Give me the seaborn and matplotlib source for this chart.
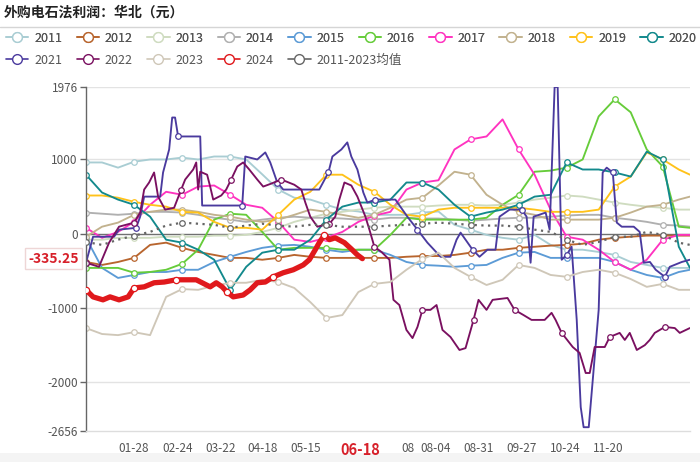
import numpy as np
import pandas as pd
import matplotlib
matplotlib.use("Agg")
import matplotlib.pyplot as plt
import seaborn as sns
from matplotlib.lines import Line2D
from matplotlib.patches import Rectangle

sns.set_theme(style="white")
plt.rcParams['font.family'] = ['Noto Sans CJK SC', 'DejaVu Sans']

# ---- data (day of year, profit in yuan) ----
days = [-2, 8, 18, 28, 38, 48, 58, 68, 78, 88, 98, 108, 118, 128, 138, 148, 158, 168, 178, 188,
        198, 208, 218, 228, 238, 248, 258, 268, 278, 288, 298, 308, 318, 328, 338, 348, 358, 368, 375]

y2011 = [960, 960, 890, 970, 1000, 1000, 1025, 1000, 1040, 1040, 1000, 800, 595, 485, 460, 390, 325, 300, 255, 255,
         255, 285, 300, 120, 55, -15, -55, -80, -15, -150, -215, -215, -245, -285, -380, -420, -460, -460, -460]
y2012 = [-380, -420, -380, -325, -150, -120, -190, -245, -285, -325, -325, -350, -325, -285, -310, -325, -325, -325, -325, -325,
         -310, -300, -300, -285, -255, -215, -215, -190, -175, -160, -150, -135, -80, -55, -40, -25, -25, -25, -25]
y2013 = [-80, -80, -55, -55, -55, -40, -40, -40, -25, -25, -15, 25, 80, 160, 215, 270, 295, 325, 350, 365,
         365, 365, 380, 390, 390, 380, 390, 420, 460, 485, 515, 500, 460, 420, 390, 365, 350, 325, 325]
y2014 = [285, 270, 255, 270, 295, 295, 285, 255, 215, 190, 160, 190, 215, 230, 215, 215, 205, 190, 190, 215,
         215, 205, 205, 190, 175, 190, 205, 215, 215, 230, 245, 255, 255, 215, 190, 160, 120, 110, 95]
y2015 = [-55, -460, -595, -555, -515, -515, -485, -485, -380, -310, -245, -190, -160, -150, -175, -215, -245, -215, -215, -285,
         -380, -420, -430, -445, -430, -420, -325, -255, -245, -325, -325, -325, -325, -380, -485, -555, -595, -515, -485]
y2016 = [-460, -460, -460, -525, -515, -485, -405, -215, 190, 270, 255, 25, -215, -190, -190, -190, -215, -215, -215, -15,
         215, 190, 190, 190, 190, 215, 390, 525, 835, 850, 890, 1000, 1580, 1810, 1635, 1135, 905, 95, 80]
y2017 = [80, -55, 25, 160, 390, 565, 525, 635, 650, 525, 390, 350, 160, -80, -110, -55, 25, 160, 245, 295,
         595, 690, 720, 1135, 1270, 1310, 1540, 1135, 795, 325, -40, -80, -215, -380, -485, -350, -80, -15, -15]
y2018 = [-40, 95, 150, 255, 295, 325, 325, 295, 255, 230, 190, 160, 190, 255, 325, 295, 255, 215, 255, 350,
         460, 485, 650, 835, 795, 525, 390, 295, 255, 190, 190, 190, 190, 215, 285, 365, 390, 460, 500]
y2019 = [515, 515, 485, 430, 390, 365, 295, 285, 160, 80, 80, 55, 255, 460, 565, 795, 795, 660, 565, 390,
         255, 230, 325, 350, 350, 350, 350, 350, 325, 295, 295, 295, 325, 635, 770, 1095, 1000, 865, 795]
y2020 = [795, 555, 460, 390, 230, -80, -120, -215, -350, -755, -445, -255, -215, -215, -80, 190, 365, 420, 420, 460,
         690, 690, 595, 390, 230, 285, 325, 390, 500, 525, 960, 865, 865, 825, 770, 1105, 1000, -175, -460]
y2023 = [-1270, -1350, -1365, -1325, -1365, -850, -745, -755, -700, -660, -660, -620, -650, -730, -920, -1135, -1095, -785, -675, -650,
         -485, -340, -255, -460, -580, -690, -620, -420, -460, -555, -580, -515, -485, -525, -610, -715, -675, -755, -755]
y_avg = [-110, -150, -80, -25, 25, 110, 150, 135, 120, 80, 110, 135, 110, 95, 120, 120, 95, 95, 95, 110,
         120, 135, 150, 135, 120, 110, 110, 95, 55, 25, -80, -150, -110, -40, -40, 25, -15, -120, -150]

days_2021 = [-2, 2.4, 15.5, 18.6, 29.3, 31.8, 34.3, 44.3, 46.1, 49.9, 51.8, 53.6, 55.5, 69.3, 70.5, 95.5, 97.4, 104.9,
             109.9, 113, 117.4, 121.1, 143.6, 149.3, 151.8, 157.4, 161.1, 163.6, 167.4, 171.1, 173.6, 178.6, 191.1,
             198.6, 204.9, 211.1, 219.3, 225.5, 229.3, 231.8, 234.9, 239.3, 243.6, 248.6, 253.6, 256.1, 262.4, 269.9,
             273, 275.5, 277.4, 284.9, 287.4, 290.5, 292.4, 294.9, 298, 301.1, 304.3, 306.8, 308.6, 311.8, 314.3, 318,
             320.5, 323, 326.8, 329.3, 332.4, 339.9, 343.6, 346.1, 350, 353.6, 359.3, 362.4, 369.9, 374.9]
y2021 = [-390, -40, -40, 55, 80, 230, 500, 500, 825, 1135, 1565, 1565, 1310, 1310, 380, 380, 1040, 1000,
         1095, 960, 690, 595, 595, 825, 1040, 1135, 1230, 1040, 865, 555, 420, 460, 460,
         230, 55, -120, -310, -310, -80, 15, -80, -215, -310, -215, -215, 230, 325, 325,
         230, -390, 230, 285, 55, 1976, 1976, -350, -285, -175, -1160, -2335, -2605, -2605, -1970, -1025,
         825, 890, 825, 150, 95, 95, 25, -390, -380, -485, -580, -445, -380, -350]

days_2022 = [-2, 6.1, 12.4, 18.6, 28, 31.8, 34.3, 37.4, 40.5, 43, 47.4, 53, 57.4, 59.9, 64.9, 66.8, 68, 69.3, 73.6,
             75.5, 77.4, 82.4, 85.5, 88.6, 92.4, 96.1, 99.9, 104.9, 108.6, 113.6, 119.9, 128, 132.4, 134.9, 138,
             142.4, 149.9, 153.6, 156.1, 159.3, 163.6, 167.4, 172.4, 174.9, 178, 182.4, 187.4, 189.9, 193.6, 198,
             201.8, 204.9, 208, 213, 216.8, 220.5, 225.5, 231.1, 234.9, 239.9, 243, 248, 251.8, 261.1, 265.5, 271.1,
             276.1, 284.3, 288.6, 291.1, 294.9, 301.8, 306.1, 309.9, 312.4, 315.5, 321.8, 324.9, 331.1, 334.3, 337.4,
             341.8, 346.8, 349.9, 353, 359.3, 365.5, 368.6, 374.9]
y2022 = [-390, -445, -120, 95, 150, 285, 595, 690, 825, 500, 325, 350, 595, 730, 865, 960, 595, 835, 795,
         635, 460, 515, 595, 730, 905, 960, 865, 730, 635, 675, 730, 660, 595, 420, 230,
         95, 135, 230, 460, 690, 650, 500, 230, 55, -175, -245, -350, -890, -960, -1295,
         -1405, -1255, -1025, -1025, -960, -1295, -1390, -1565, -1540, -1160, -890, -1025, -890, -865, -1025, -1095,
         -1160, -1160, -1065, -1160, -1335, -1525, -1605, -1875, -1875, -1525, -1525, -1390, -1335, -1430, -1335,
         -1565, -1500, -1430, -1335, -1255, -1270, -1335, -1270]

days_2024 = [-2, 2.4, 8.6, 13, 18.6, 24.3, 28, 34.3, 40.5, 46.8, 54.3, 66.8, 70.5, 75.5, 79.3, 83, 86.1, 89.9,
             96.1, 100.5, 104.9, 109.9, 114.9, 121.1, 127.4, 133.6, 137.4, 141.1, 143.6, 146.8, 149.9, 153.6,
             159.3, 163.6, 167.4, 170.5]
y2024 = [-755, -850, -890, -850, -890, -850, -730, -715, -660, -650, -620, -620, -660, -715, -660, -715, -785, -850,
         -825, -755, -660, -650, -580, -525, -485, -420, -350, -215, -120, -15, -80, -55,
         -120, -205, -285, -335.25]

tick_days = [28, 55, 82, 108, 135, 169, 199, 216, 243, 270, 297, 324]
tick_labels = ['01-28', '02-24', '03-22', '04-18', '05-15', '06-18', '08', '08-04', '08-31', '09-27', '10-24', '11-20']
y_ticks = [1976, 1000, 0, -1000, -2000, -2656]
last_value = -335.25

# ---- series table ----
series = [
    ('2011', days, y2011), ('2012', days, y2012), ('2013', days, y2013), ('2014', days, y2014),
    ('2015', days, y2015), ('2016', days, y2016), ('2017', days, y2017), ('2018', days, y2018),
    ('2019', days, y2019), ('2020', days, y2020), ('2021', days_2021, y2021), ('2022', days_2022, y2022),
    ('2023', days, y2023), ('2011-2023均值', days, y_avg), ('2024', days_2024, y2024),
]
df = pd.concat([pd.DataFrame({'day': x, 'value': y, 'year': n}) for n, x, y in series], ignore_index=True)

colors = {
    '2011': '#a9cdd3', '2012': '#b8652e', '2013': '#cfdcc0', '2014': '#b0b0b0', '2015': '#5c9bd6',
    '2016': '#66cc3a', '2017': '#ff33c0', '2018': '#c2b28e', '2019': '#ffc21a', '2020': '#12898c',
    '2021': '#4a3a9e', '2022': '#7a1060', '2023': '#cfc7b8', '2024': '#e0191c', '2011-2023均值': '#666666',
}

# ---- figure ----
fig = plt.figure(figsize=(7, 4.62), dpi=100)
fig.add_artist(Rectangle((0, 0), 1, 9 / 462, transform=fig.transFigure, color='#f4f4f4', lw=0, zorder=0))
ax = fig.add_axes([86 / 700, 31 / 462, 604 / 700, 344 / 462])
ax.patch.set_alpha(0)

marker_days = days[::3]
for name, x, y in series:
    sub = df[df['year'] == name]
    c = colors[name]
    if x is days:
        mk = slice(0, None, 3)
    else:
        xa = np.array(x)
        mk = sorted(set(int(np.argmin(np.abs(xa - d))) for d in marker_days if d <= xa.max() + 3))
    kw = dict(color=c, lw=1.35, marker='o', ms=4, mfc='white', mec=c, mew=0.9, markevery=mk)
    if name == '2024':
        kw.update(lw=3.8, ms=4.5, zorder=5)
    if name == '2011-2023均值':
        kw.update(lw=1.6, ls=(0, (1, 2)), zorder=4)
    sns.lineplot(data=sub, x='day', y='value', estimator=None, sort=False, ax=ax, legend=False, **kw)

ax.set_xlim(-2, 375)
ax.set_ylim(-2656, 1976)
ax.set_xlabel('')
ax.set_ylabel('')

ax.set_yticks(y_ticks)
ax.set_yticklabels([str(v) for v in y_ticks])
ax.set_xticks(tick_days)
ax.set_xticklabels(tick_labels)
ax.tick_params(axis='y', length=4, width=1, color='#666666', labelsize=8.5, labelcolor='#555555', pad=2, left=True)
ax.tick_params(axis='x', length=0, labelsize=8.5, labelcolor='#555555', pad=8)
for lbl in ax.get_xticklabels():
    if lbl.get_text() == '06-18':
        lbl.set_color('#d7202a')
        lbl.set_fontweight('bold')
        lbl.set_fontsize(10.5)

for v in [1976, 1000, -1000, -2000]:
    ax.axhline(v, color='#e3e3e3', lw=1, zorder=0)
ax.axhline(0, color='#707070', lw=1, zorder=1)

for s in ['top', 'right']:
    ax.spines[s].set_visible(False)
ax.spines['left'].set_color('#666666')
ax.spines['left'].set_linewidth(1)
ax.spines['bottom'].set_color('#dddddd')
ax.spines['bottom'].set_linewidth(1)

ax.annotate(f'{last_value:.2f}', xy=(-0.012, last_value), xycoords=('axes fraction', 'data'),
            ha='right', va='center', fontsize=10, fontweight='bold', color='#d7202a',
            bbox=dict(boxstyle='square,pad=0.25', fc='white', ec='#eed6d6', lw=1))

# ---- title ----
fig.text(4 / 700, 1 - 13 / 462, '外购电石法利润：华北（元）', fontsize=10, fontweight='bold',
         color='#222222', ha='left', va='center')
fig.add_artist(Line2D([0, 1], [1 - 27 / 462] * 2, color='#d5d5d5', lw=1, transform=fig.transFigure))

# ---- legend ----
def handle(c):
    return Line2D([], [], color=c, lw=1.2, marker='o', ms=7, mfc='white', mec=c, mew=1.0)

row1 = ['2011', '2012', '2013', '2014', '2015', '2016', '2017', '2018', '2019', '2020']
row2 = ['2021', '2022', '2023', '2024', '2011-2023均值']
legend_kw = dict(frameon=False, fontsize=9, handlelength=1.8, handletextpad=0.45, columnspacing=1.15,
                 borderaxespad=0, borderpad=0, labelcolor='#555555', loc='center left')
leg1 = fig.legend([handle(colors[n]) for n in row1], row1, ncol=10,
                  bbox_to_anchor=(6 / 700, 1 - 38 / 462), **legend_kw)
fig.add_artist(leg1)
fig.legend([handle(colors[n]) for n in row2], row2, ncol=5,
           bbox_to_anchor=(6 / 700, 1 - 60 / 462), **legend_kw)

fig.savefig('out.png', dpi=100)
